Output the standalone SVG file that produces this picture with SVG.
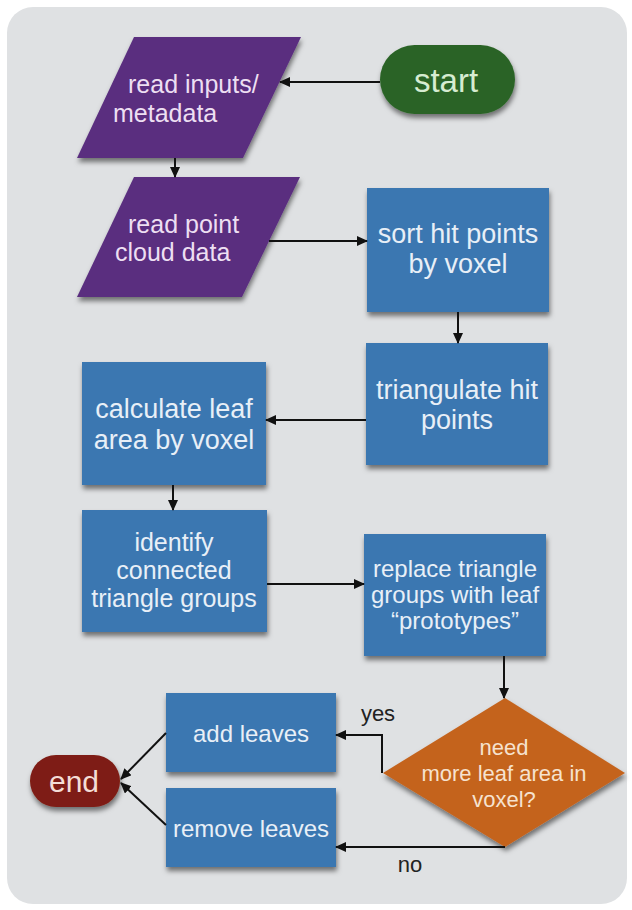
<svg xmlns="http://www.w3.org/2000/svg" width="632" height="910" viewBox="0 0 632 910">
  <defs>
    <filter id="shadow" x="-10%" y="-10%" width="125%" height="130%">
      <feDropShadow dx="1" dy="4" stdDeviation="2.5" flood-color="#000" flood-opacity="0.5"/>
    </filter>
    <marker id="arrow" markerUnits="userSpaceOnUse" markerWidth="11" markerHeight="10" refX="10" refY="5" orient="auto">
      <path d="M0,0 L11,5 L0,10 z" fill="#111"/>
    </marker>
    <style>
      text { font-family: "Liberation Sans", Arial, sans-serif; text-anchor: middle; }
      .box { fill: #3b77b1; filter: url(#shadow); }
      .io { fill: #5a2e7f; filter: url(#shadow); }
      .t-box { fill: #e8eff7; }
      .t-io { fill: #eddff2; text-anchor: start; font-size: 25px; }
      .edge { fill: none; stroke: #111; stroke-width: 2; marker-end: url(#arrow); }
      .lbl { fill: #222; font-size: 22px; }
    </style>
  </defs>

  <rect x="0" y="0" width="632" height="910" fill="#ffffff"/>
  <rect x="7" y="7" width="620" height="897" rx="26" fill="#dfe1e3"/>

  <g id="start">
    <rect x="380" y="45" width="135" height="69" rx="34.5" fill="#2b6427" filter="url(#shadow)"/>
    <text x="446" y="92" font-size="33" fill="#d6ecd1">start</text>
  </g>

  <g id="read-inputs">
    <polygon class="io" points="134,37 301,37 243,158 77,158"/>
    <text class="t-io" x="128" y="93">read inputs/</text>
    <text class="t-io" x="113" y="122">metadata</text>
  </g>

  <g id="read-cloud">
    <polygon class="io" points="134,177 300,177 242,297 77,297"/>
    <text class="t-io" x="128" y="233">read point</text>
    <text class="t-io" x="115" y="261">cloud data</text>
  </g>

  <g id="sort">
    <rect class="box" x="367" y="188" width="182" height="124"/>
    <text class="t-box" x="458" y="243" font-size="27">sort hit points</text>
    <text class="t-box" x="458" y="273" font-size="27">by voxel</text>
  </g>

  <g id="triangulate">
    <rect class="box" x="366" y="343" width="182" height="122"/>
    <text class="t-box" x="457" y="399" font-size="27">triangulate hit</text>
    <text class="t-box" x="457" y="429" font-size="27">points</text>
  </g>

  <g id="leaf-area">
    <rect class="box" x="82" y="362" width="184" height="123"/>
    <text class="t-box" x="174" y="418" font-size="27">calculate leaf</text>
    <text class="t-box" x="174" y="449" font-size="27">area by voxel</text>
  </g>

  <g id="groups">
    <rect class="box" x="82" y="510" width="185" height="122"/>
    <text class="t-box" x="174" y="551" font-size="25">identify</text>
    <text class="t-box" x="174" y="579" font-size="25">connected</text>
    <text class="t-box" x="174" y="607" font-size="25">triangle groups</text>
  </g>

  <g id="replace">
    <rect class="box" x="364" y="534" width="182" height="122"/>
    <text class="t-box" x="455" y="577" font-size="24">replace triangle</text>
    <text class="t-box" x="455" y="603" font-size="24">groups with leaf</text>
    <text class="t-box" x="455" y="629" font-size="24">“prototypes”</text>
  </g>

  <g id="decision">
    <polygon points="505,698 625,773 505,847 383,773" fill="#c4641f" filter="url(#shadow)"/>
    <text x="504" y="755" font-size="22" fill="#f6e2cf">need</text>
    <text x="504" y="781" font-size="22" fill="#f6e2cf">more leaf area in</text>
    <text x="504" y="807" font-size="22" fill="#f6e2cf">voxel?</text>
  </g>

  <g id="add-leaves">
    <rect class="box" x="166" y="693" width="170" height="79"/>
    <text class="t-box" x="251" y="742" font-size="24">add leaves</text>
  </g>

  <g id="remove-leaves">
    <rect class="box" x="166" y="788" width="170" height="79"/>
    <text class="t-box" x="251" y="837" font-size="24">remove leaves</text>
  </g>

  <g id="end">
    <rect x="30" y="755" width="90" height="52" rx="26" fill="#7e1e13" filter="url(#shadow)"/>
    <text x="74" y="792" font-size="30" fill="#f4ddd6">end</text>
  </g>

  <g id="connectors">
    <path class="edge" d="M380,82 L280,82"/>
    <path class="edge" d="M175,158 L175,177"/>
    <path class="edge" d="M269,241 L367,241"/>
    <path class="edge" d="M458,312 L458,343"/>
    <path class="edge" d="M366,420 L266,420"/>
    <path class="edge" d="M173,485 L173,510"/>
    <path class="edge" d="M267,584 L364,584"/>
    <path class="edge" d="M504,656 L504,698"/>
    <path class="edge" d="M382,773 V735 H336"/>
    <path class="edge" d="M505,847 H336"/>
    <path class="edge" d="M166,733 L121,779"/>
    <path class="edge" d="M166,825 L121,783"/>
    <text class="lbl" x="378" y="721">yes</text>
    <text class="lbl" x="410" y="872">no</text>
  </g>
</svg>
